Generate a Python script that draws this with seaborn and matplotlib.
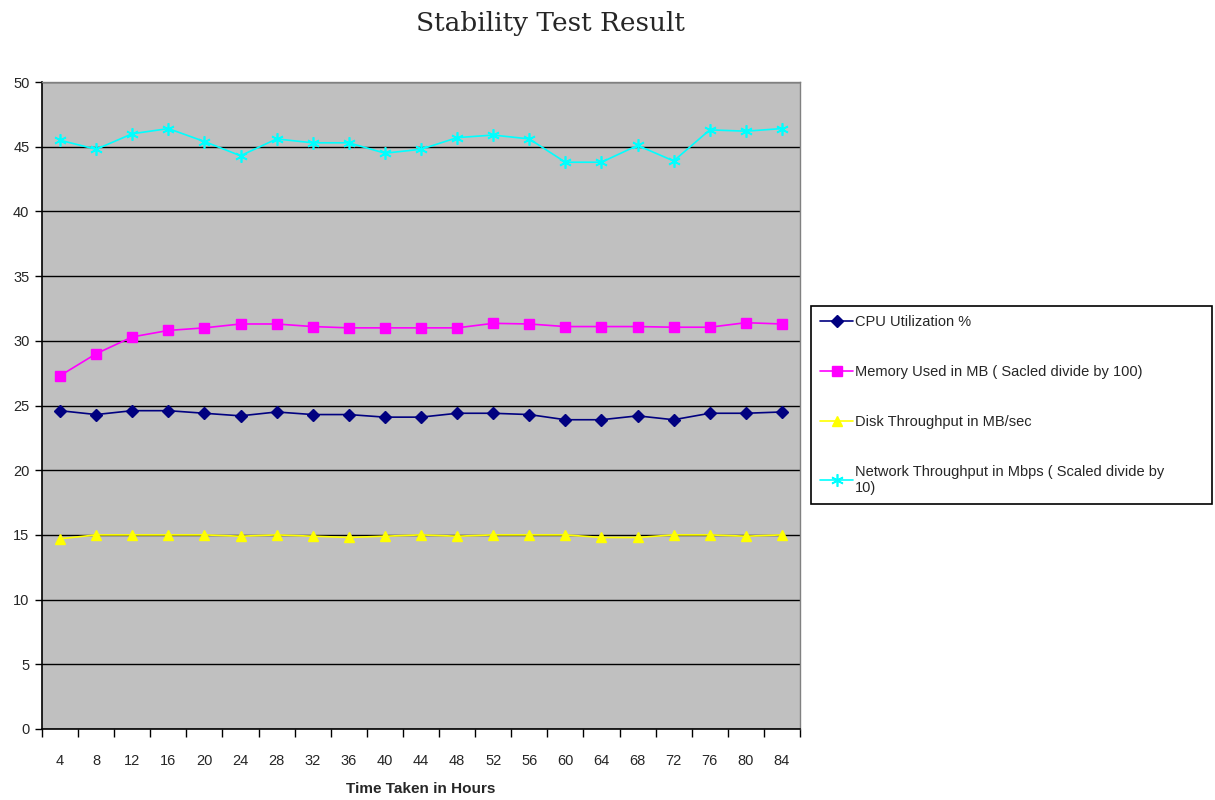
import matplotlib
matplotlib.use("Agg")
import matplotlib.pyplot as plt
import seaborn as sns
import numpy as np
from matplotlib.ticker import FixedLocator, NullFormatter

hours = [4, 8, 12, 16, 20, 24, 28, 32, 36, 40, 44, 48, 52, 56, 60, 64, 68, 72, 76, 80, 84]

cpu = [24.6, 24.3, 24.6, 24.6, 24.4, 24.2, 24.5, 24.3, 24.3, 24.1, 24.1,
       24.4, 24.4, 24.3, 23.9, 23.9, 24.2, 23.9, 24.4, 24.4, 24.5]
memory = [27.3, 29.0, 30.3, 30.8, 31.0, 31.3, 31.3, 31.1, 31.0, 31.0, 31.0,
          31.0, 31.35, 31.3, 31.1, 31.1, 31.1, 31.05, 31.05, 31.4, 31.3]
disk = [14.7, 15.0, 15.0, 15.0, 15.0, 14.9, 15.0, 14.9, 14.8, 14.9, 15.0,
        14.9, 15.0, 15.0, 15.0, 14.8, 14.8, 15.0, 15.0, 14.9, 15.0]
network = [45.5, 44.8, 46.0, 46.4, 45.4, 44.3, 45.6, 45.3, 45.3, 44.5, 44.8,
           45.7, 45.9, 45.6, 43.8, 43.8, 45.1, 43.9, 46.3, 46.2, 46.4]

labels = ["CPU Utilization %",
          "Memory Used in MB ( Sacled divide by 100)",
          "Disk Throughput in MB/sec",
          "Network Throughput in Mbps ( Scaled divide by\n10)"]

sns.set_theme(style="white")
plt.rcParams["font.family"] = ["Liberation Sans", "DejaVu Sans"]

fig = plt.figure(figsize=(12.15, 8.0), dpi=100)
ax = fig.add_axes([42 / 1215, 1 - 729 / 800, 758 / 1215, 647 / 800])
ax.set_facecolor("#C0C0C0")

pos = np.arange(len(hours))
series = [
    (cpu, "#000080", "D", 6, 1.0),
    (memory, "#FF00FF", "s", 7, 1.0),
    (disk, "#FFFF00", "^", 7.5, 1.0),
    (network, "#00FFFF", (6, 2, 0), 9, 1.2),
]
for (vals, col, mk, ms, mew), lab in zip(series, labels):
    sns.lineplot(x=pos, y=vals, ax=ax, color=col, marker=mk, markersize=ms,
                 markeredgecolor=col, markerfacecolor=col, markeredgewidth=mew,
                 linewidth=1.2, label=lab, zorder=3)

ax.set_xlim(-0.5, len(hours) - 0.5)
ax.set_ylim(0, 50)
ax.set_yticks(np.arange(0, 51, 5))
ax.grid(axis="y", color="black", linewidth=1.0, zorder=1)
ax.set_axisbelow(True)

# category boundaries carry the tick marks, labels sit at category centres
ax.xaxis.set_major_locator(FixedLocator(np.arange(-0.5, len(hours) + 0.5, 1)))
ax.xaxis.set_major_formatter(NullFormatter())
ax.xaxis.set_minor_locator(FixedLocator(pos))
ax.set_xticklabels([str(h) for h in hours], minor=True)
ax.tick_params(axis="x", which="major", direction="out", length=6, width=1,
               color="black", bottom=True)
ax.tick_params(axis="x", which="minor", length=0, pad=18, labelsize=10.5)
ax.tick_params(axis="y", direction="out", length=5, width=1, color="black",
               left=True, labelsize=10.5, pad=4)

for side in ["left", "bottom"]:
    ax.spines[side].set_color("black")
    ax.spines[side].set_linewidth(1.2)
for side in ["top", "right"]:
    ax.spines[side].set_color("#808080")
    ax.spines[side].set_linewidth(1.0)

ax.set_xlabel("Time Taken in Hours", fontsize=11, fontweight="bold",
              family=["Liberation Sans Narrow", "Liberation Sans"], labelpad=10)
ax.set_ylabel("")

fig.suptitle("Stability Test Result", x=550 / 1215, y=1 - 23 / 800, va="center",
             fontsize=19, fontweight="normal",
             family=["DejaVu Serif"])

handles, labs = ax.get_legend_handles_labels()
ax.get_legend().remove()
leg = fig.legend(handles, labs, loc="upper left",
                 bbox_to_anchor=(811 / 1215, 1 - 306 / 800, 401 / 1215, 0.0),
                 mode="expand", fontsize=10.5, frameon=True, fancybox=False,
                 framealpha=1, edgecolor="black", handlelength=2.3,
                 handletextpad=0.1, labelspacing=2.47, borderpad=0.6,
                 borderaxespad=0)
leg.get_frame().set_linewidth(1.2)

fig.savefig("out.png", dpi=100, facecolor="white")
